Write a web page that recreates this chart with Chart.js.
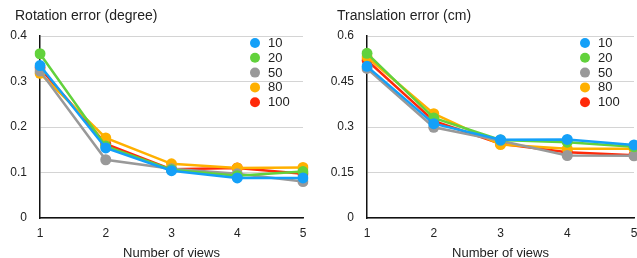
<!DOCTYPE html>
<html>
<head>
<meta charset="utf-8">
<script src="https://cdn.jsdelivr.net/npm/chart.js@4.4.1/dist/chart.umd.min.js"></script>
<style>
  html, body { margin: 0; padding: 0; background: #fff; overflow: hidden; }
  #wrap { position: relative; width: 637px; height: 258px; overflow: hidden; }
  canvas { position: absolute; top: 0; }
  #rotChart { left: 0; }
  #transChart { left: 318px; }
</style>
</head>
<body>
<div id="wrap">
  <canvas id="rotChart" width="318" height="258"></canvas>
  <canvas id="transChart" width="330" height="258"></canvas>
</div>
<script>
// 数据
const views = ["1", "2", "3", "4", "5"];
const seriesNames = ["10", "20", "50", "80", "100"];
const seriesColors = ["#14a0f8", "#62d23c", "#999999", "#ffb000", "#ff2a0a"];

// 旋转误差 (degree)
const rot10 = [0.335, 0.154, 0.104, 0.088, 0.088];
const rot20 = [0.361, 0.158, 0.106, 0.093, 0.102];
const rot50 = [0.323, 0.128, 0.108, 0.097, 0.080];
const rot80 = [0.318, 0.176, 0.119, 0.110, 0.111];
const rot100 = [0.330, 0.163, 0.107, 0.110, 0.097];

// 平移误差 (cm)
const trans10 = [0.500, 0.311, 0.258, 0.259, 0.241];
const trans20 = [0.543, 0.330, 0.257, 0.250, 0.235];
const trans50 = [0.493, 0.299, 0.255, 0.206, 0.205];
const trans80 = [0.531, 0.344, 0.242, 0.228, 0.228];
const trans100 = [0.520, 0.320, 0.245, 0.217, 0.207];

const rotTicks = [0, 0.1, 0.2, 0.3, 0.4];
const rotTickLabels = ["0", "0.1", "0.2", "0.3", "0.4"];
const transTicks = [0, 0.15, 0.3, 0.45, 0.6];
const transTickLabels = ["0", "0.15", "0.3", "0.45", "0.6"];

const FONT = "'Liberation Sans', Arial, Helvetica, sans-serif";
const TEXT = "#222";

// 标题和图内图例
const decorations = {
    id: "decorations",
    afterDraw(chart, args, opts) {
        const ctx = chart.ctx;
        const area = chart.chartArea;
        ctx.save();
        ctx.textBaseline = "middle";
        ctx.font = "14px " + FONT;
        ctx.fillStyle = TEXT;
        ctx.fillText(opts.title, opts.titleX, 16);

        ctx.font = "13px " + FONT;
        chart.data.datasets.forEach((ds, i) => {
            const x = area.left + opts.dx;
            const y = area.top + opts.dy + i * 14.8;
            ctx.fillStyle = ds.borderColor;
            ctx.beginPath();
            ctx.arc(x, y, 5, 0, Math.PI * 2);
            ctx.fill();
            ctx.fillStyle = TEXT;
            ctx.fillText(ds.label, x + 13, y + 0.5);
        });
        ctx.restore();
    }
};

function makeDatasets(list) {
    return list.map((data, i) => ({
        label: seriesNames[i],
        data: data,
        borderColor: seriesColors[i],
        backgroundColor: seriesColors[i],
        borderWidth: 2.5,
        pointRadius: 5.5,
        pointHoverRadius: 5.5,
        pointBorderWidth: 0,
        tension: 0,
        fill: false
    }));
}

function makeChart(id, title, datasets, ticks, tickLabels, titleX, padRight, yWidth, legendDx) {
    const ctx = document.getElementById(id).getContext("2d");
    return new Chart(ctx, {
        type: "line",
        data: { labels: views, datasets: datasets },
        plugins: [decorations],
        options: {
            responsive: false,
            animation: false,
            layout: { padding: { left: 0, right: padRight, top: 36, bottom: 0 } },
            plugins: {
                legend: { display: false },
                tooltip: { enabled: false },
                title: { display: false },
                decorations: { title: title, titleX: titleX, dx: legendDx, dy: 7 }
            },
            scales: {
                x: {
                    offset: false,
                    grid: { display: false },
                    border: { color: "#111", width: 1.5 },
                    ticks: { color: TEXT, font: { family: FONT, size: 12 }, padding: 0, maxRotation: 0 },
                    title: {
                        display: true,
                        text: "Number of views",
                        color: TEXT,
                        font: { family: FONT, size: 13 },
                        padding: { top: 4, bottom: -3 }
                    },
                    afterFit: s => { s.height = 40; }
                },
                y: {
                    min: 0,
                    max: ticks[ticks.length - 1],
                    afterBuildTicks: s => { s.ticks = ticks.map(v => ({ value: v })); },
                    grid: { color: "#d4d4d4", lineWidth: 1, drawTicks: false },
                    border: { color: "#111", width: 1.5 },
                    ticks: {
                        color: TEXT,
                        font: { family: FONT, size: 12 },
                        padding: 13,
                        callback: (v, i) => tickLabels[i]
                    },
                    afterFit: s => { s.width = yWidth; }
                }
            }
        }
    });
}

makeChart("rotChart", "Rotation error (degree)",
    makeDatasets([rot10, rot20, rot50, rot80, rot100]),
    rotTicks, rotTickLabels, 15, 15, 40, 215);

makeChart("transChart", "Translation error (cm)",
    makeDatasets([trans10, trans20, trans50, trans80, trans100]),
    transTicks, transTickLabels, 19, 14, 49, 218);
</script>
</body>
</html>
